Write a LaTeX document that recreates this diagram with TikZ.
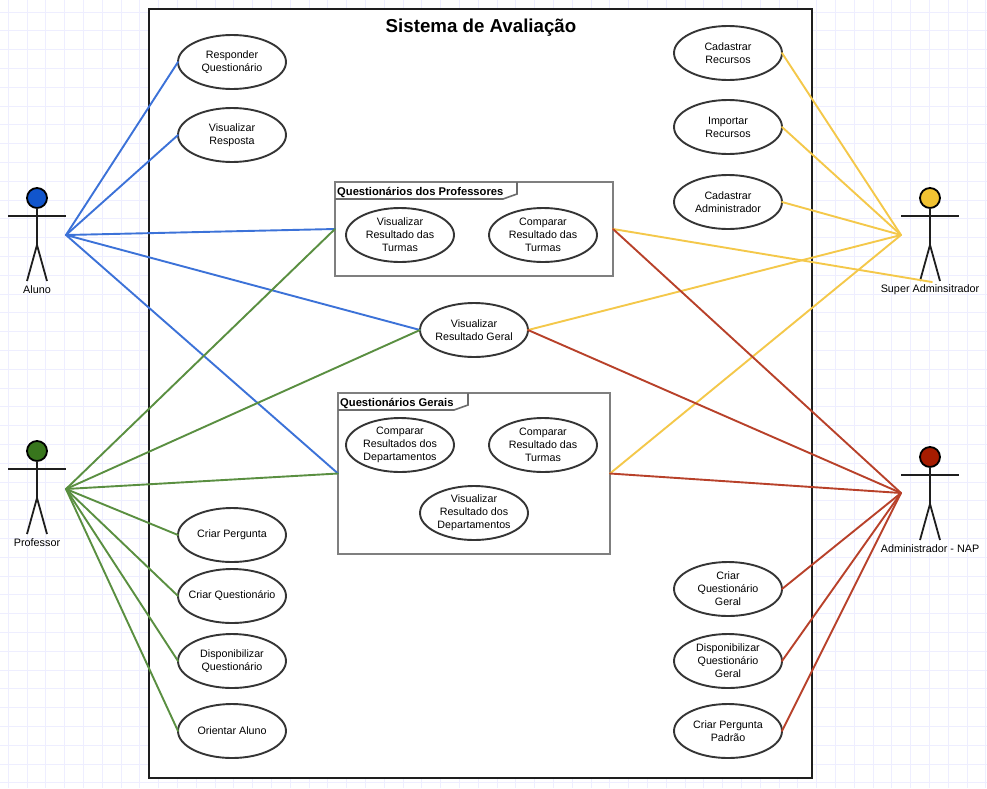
\documentclass[tikz,border=0pt]{standalone}
\usepackage{fontspec}
\setmainfont{Liberation Sans}
\usetikzlibrary{shapes.geometric}
\definecolor{gridc}{HTML}{EEEEFF}
\definecolor{lblue}{HTML}{3C72D8}
\definecolor{lgreen}{HTML}{5A8F41}
\definecolor{lyellow}{HTML}{F4C84A}
\definecolor{lred}{HTML}{B8412A}
\definecolor{hblue}{HTML}{1155CC}
\definecolor{hgreen}{HTML}{38761D}
\definecolor{hyellow}{HTML}{F1C232}
\definecolor{hred}{HTML}{A61C00}
\definecolor{inkc}{HTML}{1E1E1E}
\definecolor{boxc}{HTML}{7F7F7F}
\tikzset{
  usecase/.style={ellipse,draw=inkc!90,line width=1.9pt,fill=white,minimum width=108pt,minimum height=54pt,inner xsep=-16pt,inner ysep=-6pt,outer sep=0pt,align=center,font=\fontsize{10.7}{13}\selectfont,text=black},
  head/.style={circle,draw=black,line width=1.8pt,minimum size=20pt,inner sep=0pt,outer sep=0pt},
  limb/.style={draw=inkc,line width=1.8pt},
  actorlabel/.style={font=\fontsize{10.8}{12}\selectfont,text=black,inner sep=0pt},
  groupbox/.style={rectangle,draw=boxc,line width=2pt,fill=white,inner sep=0pt,outer sep=0pt,anchor=north west},
  tabline/.style={draw=boxc!85!black,line width=1.6pt},
  tabtext/.style={font=\fontsize{11.2}{12}\selectfont\bfseries,text=black,inner sep=0pt,anchor=west},
  assoc/.style={line width=1.9pt,line cap=round},
}
\newcommand{\stick}[6]{% name, x, head y, colour, label, label y
  \node[head,fill=#4] (#1head) at (#2,#3) {};
  \coordinate (#1neck) at (#2,#3+18);
  \coordinate (#1hip) at (#2,#3+47);
  \coordinate (#1armL) at (#2-29,#3+18);
  \coordinate (#1armR) at (#2+29,#3+18);
  \coordinate (#1legL) at (#2-10,#3+83);
  \coordinate (#1legR) at (#2+10,#3+83);
  \draw[limb] (#1head.south) -- (#1hip);
  \draw[limb] (#1armL) -- (#1armR);
  \draw[limb] (#1legL) -- (#1hip) -- (#1legR);
  \node[actorlabel] (#1label) at (#2,#6) {#5};
}
\begin{document}
\begin{tikzpicture}[x=1pt,y=-1pt]
\useasboundingbox (0,0) rectangle (987,788);
% grid
\foreach \i in {0,...,52} \draw[gridc,line width=1pt] ({8.3+18.8*\i},0) -- ({8.3+18.8*\i},788);
\foreach \i in {0,...,41} \draw[gridc,line width=1pt] (0,{12+18.8*\i}) -- (987,{12+18.8*\i});
% system frame
\node[rectangle,draw=inkc,line width=2.2pt,fill=white,inner sep=0pt,outer sep=0pt,minimum width=663pt,minimum height=769pt,anchor=north west] (system) at (149,9) {};
\node[font=\fontsize{18.7}{20}\selectfont\bfseries,inner sep=0pt] (title) at (481,28) {Sistema de Avaliação};
% group boxes
\node[groupbox,minimum width=278pt,minimum height=94pt] (boxprof) at (335,182) {};
\draw[tabline] (335,199) -- (503,199) -- (517,194) -- (517,182);
\node[tabtext] (boxproft) at (337,192) {Questionários dos Professores};
\node[groupbox,minimum width=272pt,minimum height=161pt] (boxger) at (338,393) {};
\draw[tabline] (338,410) -- (454,410) -- (468,405) -- (468,393);
\node[tabtext] (boxgert) at (340,403.5) {Questionários Gerais};
% use cases, left column
\node[usecase] (resp) at (232,62) {Responder\\Questionário};
\node[usecase] (visr) at (232,135) {Visualizar\\Resposta};
\node[usecase] (cper) at (232,535) {Criar Pergunta};
\node[usecase] (cque) at (232,596) {Criar Questionário};
\node[usecase] (dque) at (232,661) {Disponibilizar\\Questionário};
\node[usecase] (oalu) at (232,731) {Orientar Aluno};
% use cases, right column
\node[usecase] (crec) at (728,53) {Cadastrar\\Recursos};
\node[usecase] (irec) at (728,127) {Importar\\Recursos};
\node[usecase] (cadm) at (728,202) {Cadastrar\\Administrador};
\node[usecase] (cqge) at (728,589) {Criar\\Questionário\\Geral};
\node[usecase] (dqge) at (728,661) {Disponibilizar\\Questionário\\Geral};
\node[usecase] (cpep) at (728,731) {Criar Pergunta\\Padrão};
% use cases, centre
\node[usecase] (vrt1) at (400,235) {Visualizar\\Resultado das\\Turmas};
\node[usecase] (crt1) at (543,235) {Comparar\\Resultado das\\Turmas};
\node[usecase] (vger) at (474,330) {Visualizar\\Resultado Geral};
\node[usecase] (crd) at (400,445) {Comparar\\Resultados dos\\Departamentos};
\node[usecase] (crt2) at (543,445) {Comparar\\Resultado das\\Turmas};
\node[usecase] (vrd) at (474,513) {Visualizar\\Resultado dos\\Departamentos};
% actors
\stick{aluno}{37}{198}{hblue}{Aluno}{290}
\stick{prof}{37}{451}{hgreen}{Professor}{543}
\stick{super}{930}{198}{hyellow}{Super Adminsitrador}{290}
\stick{admin}{930}{457}{hred}{Administrador - NAP}{548.5}
% connector ends
\coordinate (alunoH) at (66,235);
\coordinate (profH) at (66,489);
\coordinate (superH) at (901,235);
\coordinate (adminH) at (901,493);
\coordinate (superL) at (932,282);
% associations
\foreach \t in {resp.west,visr.west,boxprof.west,vger.west,boxger.west}
  \draw[assoc,lblue] (alunoH) -- (\t);
\foreach \t in {boxprof.west,vger.west,boxger.west,cper.west,cque.west,dque.west,oalu.west}
  \draw[assoc,lgreen] (profH) -- (\t);
\foreach \t in {crec.east,irec.east,cadm.east,vger.east,boxger.east}
  \draw[assoc,lyellow] (superH) -- (\t);
\draw[assoc,lyellow] (boxprof.east) -- (superL);
\foreach \t in {boxprof.east,vger.east,boxger.east,cqge.east,dqge.east,cpep.east}
  \draw[assoc,lred] (adminH) -- (\t);
\end{tikzpicture}
\end{document}
